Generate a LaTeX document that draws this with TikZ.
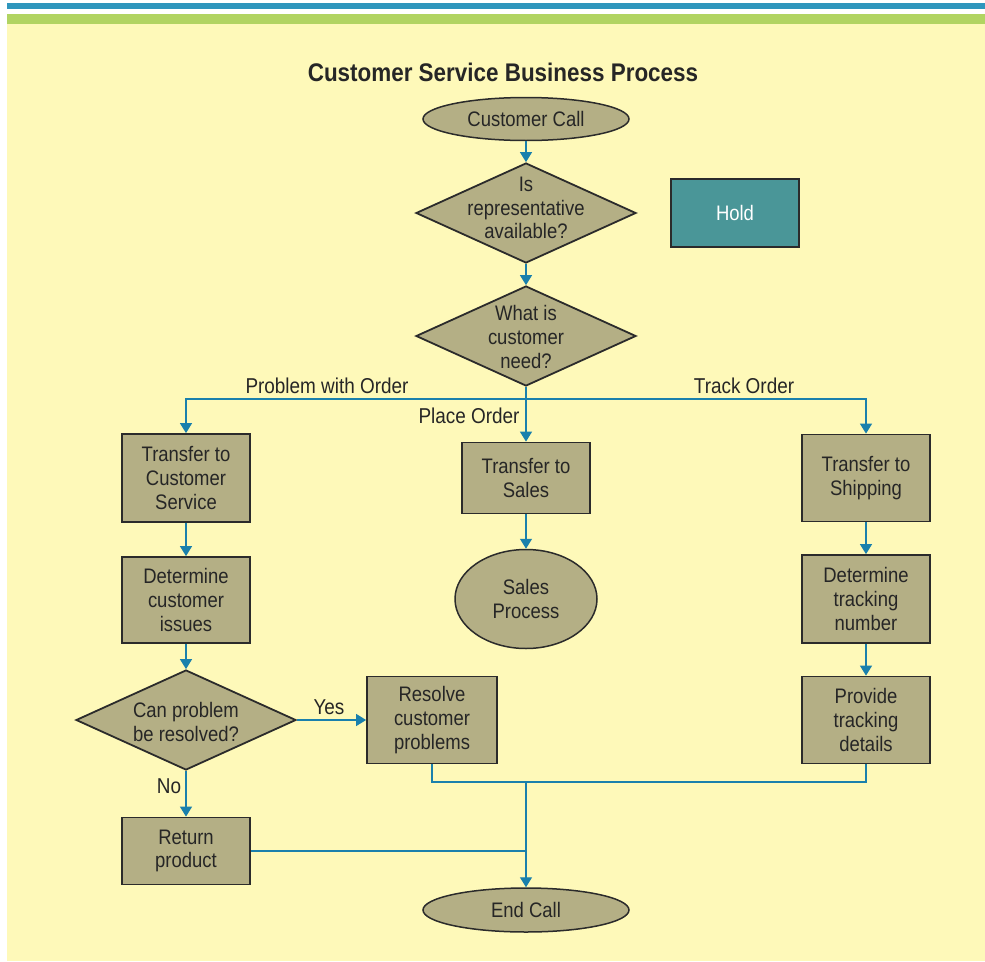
\documentclass[tikz,border=0pt]{standalone}
\usepackage{fontspec}
\setmainfont{Liberation Sans}[FakeStretch=0.88]
\usetikzlibrary{shapes.geometric,arrows.meta}
\definecolor{bgyellow}{HTML}{FEF9B9}
\definecolor{stripeblue}{HTML}{2F96BD}
\definecolor{stripegreen}{HTML}{B1D462}
\definecolor{khaki}{HTML}{B4AF85}
\definecolor{holdteal}{HTML}{4A9698}
\definecolor{flowblue}{HTML}{1A80AC}
\definecolor{edgegray}{HTML}{2B2B2B}
\definecolor{inkdark}{HTML}{262626}
\tikzset{
  base/.style={draw=edgegray, line width=1.8pt, fill=khaki, text=inkdark, inner sep=0pt,
    align=center, font=\fontsize{21}{23.8}\selectfont},
  procbox/.style={base, rectangle, minimum width=128, minimum height=87},
  terminal/.style={base, ellipse, line width=1.5pt},
  decision/.style={base, diamond, minimum width=220, minimum height=100},
  dtext/.style={text=inkdark, align=center, inner sep=0pt, font=\fontsize{21}{23.8}\selectfont},
  flowlabel/.style={text=inkdark, inner sep=0pt, font=\fontsize{21.5}{24}\selectfont},
  conn/.style={draw=flowblue, line width=1.4pt, -{Triangle[width=12,length=10]}},
  joinline/.style={draw=flowblue, line width=1.4pt}
}
\begin{document}
\begin{tikzpicture}[x=1pt,y=-1pt]
  % page background and top stripes
  \useasboundingbox (0,0) rectangle (985,961);
  \fill[white] (0,0) rectangle (985,961);
  \fill[bgyellow] (7,24) rectangle (985,961);
  \fill[stripeblue] (7,3) rectangle (985,8.5);
  \fill[stripegreen] (7,14) rectangle (985,24);

  % title
  \node[text=inkdark, font=\bfseries\fontsize{25.5}{28}\selectfont] (title) at (503,72)
    {Customer Service Business Process};

  % main column
  \node[terminal, minimum width=206, minimum height=43] (call) at (526,119) {Customer Call};
  \node[decision] (avail) at (526,213) {};
  \node[dtext] (availtxt) at (526,208) {Is\\representative\\available?};
  \node[procbox, fill=holdteal, text=white, minimum height=68] (hold) at (735,213) {Hold};
  \node[decision] (need) at (526,336) {};
  \node[dtext] (needtxt) at (526,337) {What is\\customer\\need?};
  \coordinate (split) at (526,399);

  % left branch
  \node[procbox, minimum height=88] (tcs) at (186,478) {Transfer to\\Customer\\Service};
  \node[procbox, minimum height=86] (issues) at (186,600) {Determine\\customer\\issues};
  \node[decision] (canres) at (186,720) {};
  \node[dtext] (canrestxt) at (186,722) {Can problem\\be resolved?};
  \node[procbox, minimum width=130] (resolve) at (432,720) {Resolve\\customer\\problems};
  \node[procbox, minimum height=67] (ret) at (186,851) {Return\\product};

  % middle branch
  \node[procbox, minimum height=71] (tsales) at (526,478) {Transfer to\\Sales};
  \node[terminal, minimum width=142, minimum height=99] (sales) at (526,599) {Sales\\Process};

  % right branch
  \node[procbox] (tship) at (866,478) {Transfer to\\Shipping};
  \node[procbox, minimum height=88] (track) at (866,599) {Determine\\tracking\\number};
  \node[procbox] (details) at (866,720) {Provide\\tracking\\details};

  % end
  \coordinate (merge) at (526,782);
  \coordinate (retjoin) at (526,851);
  \node[terminal, minimum width=206, minimum height=44] (endcall) at (526,910) {End Call};

  % connectors
  \draw[conn] (call) -- (avail);
  \draw[conn] (avail) -- (need);
  \draw[joinline] (need.south) -- (split);
  \draw[conn] (split) -| (tcs.north);
  \draw[conn] (split) -| (tship.north);
  \draw[conn] (split) -- (tsales.north);
  \draw[conn] (tcs) -- (issues);
  \draw[conn] (issues) -- (canres);
  \draw[conn] (canres.east) -- (resolve.west);
  \draw[conn] (canres.south) -- (ret.north);
  \draw[conn] (tsales) -- (sales);
  \draw[conn] (tship) -- (track);
  \draw[conn] (track) -- (details);
  \draw[joinline] (resolve.south) |- (merge);
  \draw[joinline] (details.south) |- (merge);
  \draw[joinline] (ret.east) -- (retjoin);
  \draw[conn] (merge) -- (endcall.north);

  % branch labels
  \node[flowlabel] (lblproblem) at (327,386) {Problem with Order};
  \node[flowlabel] (lbltrack) at (744,386) {Track Order};
  \node[flowlabel] (lblplace) at (469,416) {Place Order};
  \node[flowlabel] (lblyes) at (329,707) {Yes};
  \node[flowlabel] (lblno) at (169,786) {No};
\end{tikzpicture}
\end{document}
